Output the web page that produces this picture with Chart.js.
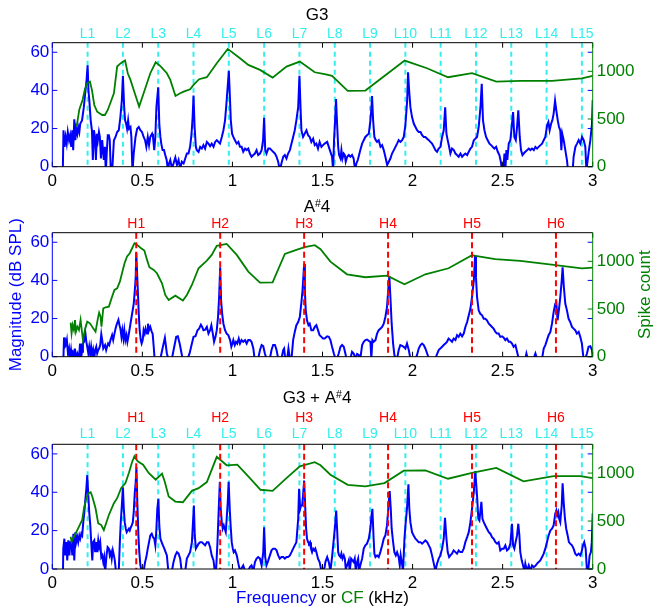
<!DOCTYPE html>
<html>
<head>
<meta charset="utf-8">
<script src="https://cdn.jsdelivr.net/npm/chart.js@4.4.1/dist/chart.umd.min.js"></script>
<style>
  body { margin: 0; background: #fff; }
  #wrap { position: relative; width: 655px; height: 610px; }
  canvas { position: absolute; left: 0; }
</style>
</head>
<body>
<div id="wrap">
  <canvas id="c1" width="655" height="195" style="top:0px"></canvas>
  <canvas id="c2" width="655" height="190" style="top:195px"></canvas>
  <canvas id="c3" width="655" height="225" style="top:385px"></canvas>
</div>
<script>
// axis ticks
const xTicks = [0, 0.5, 1, 1.5, 2, 2.5, 3];
const magTicks = [0, 20, 40, 60];
const spikeTicks = [0, 500, 1000];

// G3 partials (L) and A#4 harmonics (H), kHz
const lineFreqs = [0.196, 0.392, 0.588, 0.784, 0.98, 1.176, 1.372, 1.568, 1.764, 1.96, 2.156, 2.352, 2.548, 2.744, 2.94];
const lineNames = ['L1','L2','L3','L4','L5','L6','L7','L8','L9','L10','L11','L12','L13','L14','L15'];
const harmFreqs = [0.466, 0.932, 1.398, 1.864, 2.33, 2.796];
const harmNames = ['H1','H2','H3','H4','H5','H6'];

// spectra: [kHz, dB SPL]
const g3Spectrum = [[0,-10],[0.057,-10],[0.062,19.1],[0.068,10.4],[0.074,15.6],[0.080,12.1],[0.086,18.2],[0.093,13.9],[0.099,16.5],[0.105,10.4],[0.111,19.1],[0.116,8.7],[0.122,24.8],[0.128,13.9],[0.133,19.9],[0.139,17.3],[0.144,20.8],[0.150,18.2],[0.155,22.5],[0.165,24.3],[0.175,31.2],[0.184,39.9],[0.190,45.1],[0.196,53.2],[0.201,39.9],[0.207,32.9],[0.213,24.3],[0.220,19.1],[0.225,3.5],[0.231,19.1],[0.237,15.6],[0.242,3.5],[0.248,17.3],[0.253,13.9],[0.259,18.2],[0.264,15.6],[0.270,4.3],[0.277,13.9],[0.286,3.5],[0.292,10.4],[0.297,-3],[0.303,8.7],[0.308,16.5],[0.314,16.5],[0.319,13.9],[0.325,-3],[0.332,-3],[0.342,13.9],[0.351,15.6],[0.360,18.2],[0.369,19.1],[0.378,26],[0.386,34.7],[0.392,47.7],[0.399,31.2],[0.404,24.3],[0.410,22.5],[0.415,19.9],[0.421,24.3],[0.426,19.9],[0.434,20.8],[0.439,15.6],[0.445,-3],[0.452,7.0],[0.462,15.6],[0.471,19.9],[0.480,20.8],[0.489,19.1],[0.498,18.2],[0.507,15.6],[0.515,13.9],[0.522,10.4],[0.530,15.6],[0.537,11.3],[0.544,15.6],[0.554,17.3],[0.559,15.6],[0.566,8.7],[0.572,15.6],[0.578,31.2],[0.588,41.6],[0.594,22.5],[0.600,15.6],[0.605,12.1],[0.612,8.7],[0.620,8.7],[0.627,6.1],[0.635,3.5],[0.642,-2],[0.648,1.7],[0.655,3.5],[0.664,-1],[0.673,1.7],[0.683,4.8],[0.692,0.9],[0.701,3.5],[0.710,-1],[0.719,2.6],[0.729,1.7],[0.738,4.3],[0.747,6.9],[0.756,6.9],[0.765,10.4],[0.773,17.3],[0.779,26],[0.784,37.3],[0.790,20.8],[0.797,10.4],[0.802,8.7],[0.812,7.8],[0.821,10.4],[0.830,9.5],[0.839,11.3],[0.848,9.5],[0.858,13],[0.867,12.1],[0.876,10.8],[0.885,12.1],[0.895,10.4],[0.904,13],[0.913,13.9],[0.922,13],[0.931,12.1],[0.941,15.6],[0.950,19.1],[0.959,24.3],[0.968,34.7],[0.980,50.2],[0.986,36.4],[0.991,24.3],[0.998,17.3],[1.005,15.6],[1.014,13.9],[1.024,12.1],[1.033,13],[1.042,10.4],[1.051,10.4],[1.060,7.8],[1.070,9.5],[1.079,8.7],[1.088,9.5],[1.097,6.9],[1.106,5.2],[1.116,6.1],[1.125,6.9],[1.134,8.7],[1.143,6.1],[1.153,6.9],[1.162,8.7],[1.170,13.9],[1.176,25.6],[1.182,8.7],[1.189,6.9],[1.199,9.5],[1.208,9.5],[1.217,8.7],[1.226,7.8],[1.236,6.9],[1.245,5.2],[1.254,2.6],[1.263,-2],[1.272,1.7],[1.282,5.2],[1.291,6.1],[1.300,4.3],[1.309,6.9],[1.319,8.7],[1.328,12.1],[1.337,15.6],[1.346,19.1],[1.355,24.3],[1.365,31.2],[1.372,47.7],[1.378,31.2],[1.383,19.1],[1.392,15.6],[1.401,17.3],[1.411,19.1],[1.420,16.5],[1.429,15.6],[1.438,13],[1.448,14.7],[1.457,11.3],[1.466,12.1],[1.475,9.5],[1.484,13],[1.494,10.4],[1.503,11.3],[1.512,12.1],[1.526,13.0],[1.535,10.4],[1.544,7.8],[1.553,5.2],[1.559,-2],[1.564,13.9],[1.570,24.3],[1.575,35.5],[1.581,22.5],[1.587,10.4],[1.592,6.1],[1.600,4.3],[1.605,8.7],[1.611,4.3],[1.618,6.9],[1.624,6.1],[1.629,2.6],[1.637,5.2],[1.646,6.1],[1.655,5.2],[1.664,6.1],[1.673,4.3],[1.681,-2],[1.688,1.7],[1.696,3.5],[1.703,6.1],[1.710,8.7],[1.720,12.1],[1.729,13.9],[1.738,15.6],[1.747,16.5],[1.757,17.3],[1.766,24.3],[1.772,31.2],[1.775,37],[1.781,24.3],[1.788,15.6],[1.796,13.9],[1.803,13.0],[1.812,13.9],[1.822,10.4],[1.831,11.3],[1.840,8.7],[1.849,5.2],[1.859,0.9],[1.868,2.6],[1.877,4.3],[1.886,6.9],[1.896,8.7],[1.905,10.4],[1.914,12.1],[1.923,13.9],[1.933,13.0],[1.942,13.9],[1.951,15.6],[1.960,21.7],[1.970,34.7],[1.975,49.5],[1.981,39.9],[1.988,31.2],[1.997,26.0],[2.007,22.5],[2.016,20.8],[2.025,19.1],[2.034,18.2],[2.044,18.2],[2.053,16.5],[2.062,15.6],[2.071,15.6],[2.081,14.7],[2.090,13.9],[2.099,13.0],[2.108,12.1],[2.118,10.4],[2.127,8.7],[2.136,7.8],[2.145,9.5],[2.155,10.4],[2.164,15.6],[2.173,19.1],[2.181,31.1],[2.188,17.3],[2.195,13.9],[2.203,10.4],[2.210,6.9],[2.219,9.5],[2.229,8.7],[2.238,6.9],[2.247,6.1],[2.256,5.2],[2.266,6.9],[2.275,5.2],[2.284,6.1],[2.293,6.9],[2.303,6.1],[2.312,7.8],[2.321,9.5],[2.330,10.4],[2.340,13.9],[2.349,14.7],[2.358,15.6],[2.367,20.8],[2.377,31.2],[2.384,43.4],[2.391,24.3],[2.399,19.1],[2.408,15.6],[2.417,13.9],[2.427,12.1],[2.436,11.3],[2.445,10.4],[2.454,9.5],[2.464,10.4],[2.473,7.8],[2.482,6.1],[2.490,2.6],[2.497,-2],[2.504,-2],[2.510,6.9],[2.515,-2],[2.521,8.7],[2.526,3.5],[2.534,12.1],[2.543,13.9],[2.552,22.5],[2.558,28.6],[2.565,15.6],[2.573,13.9],[2.580,20.8],[2.587,29.5],[2.595,15.6],[2.602,8.7],[2.610,6.1],[2.617,6.9],[2.626,7.8],[2.636,8.7],[2.645,9.5],[2.654,8.7],[2.663,9.5],[2.673,8.7],[2.682,10.4],[2.691,9.5],[2.700,10.4],[2.710,11.3],[2.719,12.1],[2.728,13.9],[2.737,15.6],[2.747,21.7],[2.754,23.4],[2.761,19.1],[2.769,22.5],[2.776,24.3],[2.783,27.7],[2.791,34.7],[2.798,29.5],[2.806,24.3],[2.813,20.8],[2.820,19.1],[2.826,8.7],[2.831,17.3],[2.839,13.9],[2.848,8.7],[2.857,3.5],[2.863,-2],[2.889,-2],[2.894,5.2],[2.904,10.4],[2.913,12.1],[2.922,13.9],[2.931,12.1],[2.941,15.6],[2.950,13.9],[2.959,10.4],[2.965,-2],[2.972,3.5],[2.979,8.7],[2.987,13.9],[2.996,22.5],[3.0,35]];

const as4Spectrum = [[0,-10],[0.059,-10],[0.065,10.1],[0.070,5.2],[0.076,6.1],[0.081,8.7],[0.087,1.7],[0.093,4.3],[0.098,-1],[0.104,3.5],[0.109,-1],[0.115,1.7],[0.120,-1],[0.126,4.3],[0.131,-1],[0.139,1.7],[0.148,-1],[0.154,6.9],[0.159,-1],[0.165,2.6],[0.170,6.9],[0.176,7.8],[0.183,13],[0.189,7.8],[0.194,5.2],[0.200,1.7],[0.205,5.2],[0.211,0.9],[0.216,5.2],[0.222,0.9],[0.227,3.5],[0.233,-1],[0.238,3.5],[0.244,5.2],[0.249,1.7],[0.255,3.5],[0.260,4.3],[0.266,6.1],[0.272,11.8],[0.277,8.7],[0.283,4.3],[0.288,5.2],[0.293,6.1],[0.299,3.5],[0.304,5.2],[0.310,6.9],[0.316,6.1],[0.323,8.7],[0.332,11.3],[0.338,8.7],[0.345,12.1],[0.351,14.7],[0.356,16.5],[0.362,18.2],[0.367,19.4],[0.373,16.5],[0.378,14.7],[0.384,10.4],[0.389,13.9],[0.395,9.5],[0.400,13.9],[0.406,8.7],[0.412,11.3],[0.417,7.8],[0.424,11.3],[0.434,17.3],[0.443,22.5],[0.452,27.7],[0.458,34.7],[0.463,41.6],[0.466,54.6],[0.474,36.4],[0.480,22.5],[0.485,13.9],[0.491,8.7],[0.496,6.9],[0.502,8.7],[0.507,13.9],[0.513,12.1],[0.518,14.7],[0.526,12.1],[0.531,17.3],[0.537,13.9],[0.544,15.6],[0.552,13],[0.557,12.1],[0.563,5.2],[0.568,-1],[0.600,-1],[0.614,5.2],[0.625,9.9],[0.636,1.7],[0.644,-1],[0.664,-1],[0.677,5.2],[0.688,10.4],[0.697,10.7],[0.707,6.9],[0.714,3.5],[0.723,-1],[0.751,-1],[0.762,1.7],[0.773,6.1],[0.784,10.4],[0.795,10.7],[0.806,13.9],[0.815,14.7],[0.825,16.8],[0.832,15.6],[0.839,13.9],[0.849,14.2],[0.858,15.6],[0.867,12.1],[0.876,13.9],[0.883,16.5],[0.891,12.1],[0.898,7.8],[0.906,10.4],[0.913,13.9],[0.920,20.8],[0.926,31.2],[0.932,46.9],[0.937,29.5],[0.943,22.5],[0.950,17.3],[0.959,13.9],[0.968,12.1],[0.977,11.3],[0.987,8.7],[0.994,5.2],[1.000,6.9],[1.005,8.7],[1.013,6.1],[1.020,7.8],[1.027,6.9],[1.035,9.5],[1.042,6.9],[1.051,8.7],[1.060,7.8],[1.070,8.7],[1.079,6.9],[1.088,8.7],[1.097,8.7],[1.106,7.8],[1.116,4.3],[1.123,-1],[1.143,-1],[1.153,3.5],[1.162,6.1],[1.171,5.5],[1.180,1.7],[1.189,-1],[1.208,-1],[1.217,3.5],[1.226,6.1],[1.236,6.1],[1.245,3.5],[1.254,-1],[1.272,-1],[1.282,3.5],[1.287,4.3],[1.293,-1],[1.304,-1],[1.311,4.3],[1.319,-1],[1.328,-1],[1.337,8.7],[1.346,13],[1.355,16.5],[1.365,18.2],[1.374,20.8],[1.383,28.6],[1.389,34.7],[1.398,48.6],[1.402,34.7],[1.407,24.3],[1.414,19.1],[1.422,16.5],[1.429,17.3],[1.438,13.9],[1.448,13.9],[1.457,15.6],[1.466,16.5],[1.475,13.9],[1.484,11.3],[1.494,10.4],[1.503,9.5],[1.512,9.5],[1.526,10.7],[1.535,10.4],[1.544,8.7],[1.553,5.2],[1.563,1.7],[1.572,-1],[1.581,-1],[1.590,1.7],[1.600,5.2],[1.609,6.1],[1.618,5.2],[1.627,1.7],[1.633,-1],[1.655,-1],[1.664,2.6],[1.673,1.7],[1.683,-1],[1.692,1.4],[1.701,0.9],[1.710,-1],[1.720,6.1],[1.729,7.8],[1.738,8.7],[1.747,9.0],[1.757,8.3],[1.766,7.8],[1.771,-1],[1.777,8.7],[1.784,7.8],[1.794,8.7],[1.803,12.1],[1.812,13.9],[1.821,14.7],[1.831,15.6],[1.840,17.3],[1.849,20.8],[1.858,26],[1.866,36.4],[1.871,42.3],[1.877,31.2],[1.884,17.3],[1.892,6.9],[1.899,0.9],[1.907,-1],[1.914,-1],[1.923,3.5],[1.932,6.1],[1.942,5.7],[1.951,5.2],[1.960,4.3],[1.969,6.9],[1.979,3.5],[1.988,-1],[2.016,-1],[2.025,0.9],[2.034,4.3],[2.044,6.1],[2.053,6.9],[2.062,6.1],[2.071,4.3],[2.081,1.7],[2.090,-1],[2.127,-1],[2.136,1.4],[2.145,3.5],[2.154,4.3],[2.164,5.2],[2.173,6.1],[2.182,6.9],[2.191,7.8],[2.200,9.5],[2.210,8.7],[2.219,7.8],[2.228,9.5],[2.238,8.7],[2.247,11.3],[2.256,10.4],[2.265,12.1],[2.275,10.7],[2.284,12.1],[2.293,15.6],[2.303,18.2],[2.312,21.7],[2.321,25.1],[2.330,31.2],[2.340,39.9],[2.347,53],[2.352,41.6],[2.358,31.2],[2.367,24.3],[2.376,22.5],[2.386,21.7],[2.395,19.9],[2.404,19.9],[2.413,19.1],[2.423,17.3],[2.432,16.5],[2.441,15.6],[2.450,14.7],[2.460,13],[2.469,12.1],[2.478,12.1],[2.487,10.4],[2.497,10.7],[2.506,10.0],[2.515,8.7],[2.524,9.5],[2.534,7.8],[2.543,7.8],[2.552,6.9],[2.561,5.2],[2.571,6.1],[2.580,2.6],[2.589,-1],[2.626,-1],[2.632,1.7],[2.639,-1],[2.672,-1],[2.682,1.7],[2.691,-1],[2.719,-1],[2.728,4.3],[2.737,6.1],[2.746,8.7],[2.755,11.3],[2.765,13],[2.774,17.3],[2.783,23.4],[2.792,27.7],[2.798,28.6],[2.805,19.1],[2.813,25.1],[2.820,31.2],[2.828,39.9],[2.833,46.9],[2.840,36.4],[2.848,27.7],[2.857,24.3],[2.866,19.9],[2.875,18.2],[2.885,15.6],[2.894,14.7],[2.903,13.9],[2.912,12.1],[2.922,13],[2.931,10.4],[2.940,6.9],[2.949,-1],[2.959,-1],[2.968,1.7],[2.977,5.2],[2.987,5.5],[2.996,3.5],[3.0,-1]];

const mixSpectrum = [[0,-10],[0.058,-10],[0.061,10.6],[0.067,15.8],[0.072,7.1],[0.078,14],[0.083,4.5],[0.089,14.9],[0.095,7.1],[0.100,14],[0.106,14],[0.111,7.1],[0.117,18.4],[0.122,4.5],[0.128,19.2],[0.133,14],[0.139,16.6],[0.144,14],[0.150,17.5],[0.155,15.8],[0.161,18.4],[0.166,17.5],[0.172,24.4],[0.178,29.6],[0.183,35.7],[0.189,41.8],[0.194,48.9],[0.200,38.3],[0.205,29.6],[0.211,22.7],[0.216,14],[0.222,4.5],[0.227,14],[0.233,14.9],[0.238,8.8],[0.244,14],[0.249,8.8],[0.255,14.9],[0.260,11.4],[0.266,14],[0.272,6.2],[0.277,7.1],[0.283,3.6],[0.288,6.2],[0.294,-1],[0.301,7.1],[0.307,11.4],[0.314,10.6],[0.319,7.1],[0.325,8.8],[0.330,5.4],[0.336,9.7],[0.342,7.1],[0.347,4.5],[0.353,-1],[0.369,-1],[0.375,14],[0.380,24.4],[0.386,33.1],[0.392,42.6],[0.397,31.4],[0.402,24.4],[0.408,21],[0.413,19.2],[0.419,20.1],[0.425,21],[0.430,20.1],[0.436,21.8],[0.441,22.7],[0.447,24.4],[0.452,29.6],[0.458,40],[0.463,45.2],[0.467,53],[0.472,34.8],[0.478,17.5],[0.483,8.8],[0.489,1.9],[0.496,-1],[0.507,-1],[0.515,3.6],[0.522,6.2],[0.530,10.6],[0.537,14],[0.544,17.5],[0.552,18.4],[0.559,16.6],[0.566,15.8],[0.572,12.3],[0.577,19.2],[0.583,31.4],[0.589,36.6],[0.594,22.7],[0.600,15.8],[0.607,14],[0.614,12.3],[0.622,10.6],[0.629,8.8],[0.636,7.1],[0.644,-1],[0.664,-1],[0.673,3.6],[0.683,7.1],[0.692,8.8],[0.701,8],[0.710,5.4],[0.718,-1],[0.738,-1],[0.747,5.4],[0.756,7.1],[0.765,8.8],[0.775,14],[0.780,22.7],[0.786,33.1],[0.791,17.5],[0.797,10.6],[0.802,11.4],[0.812,13.2],[0.821,14],[0.830,14],[0.839,13.2],[0.848,12.3],[0.858,14],[0.867,14],[0.876,11.4],[0.885,7.1],[0.895,4.5],[0.902,-1],[0.909,-1],[0.917,14],[0.924,31.4],[0.930,45.5],[0.935,31.4],[0.941,24.4],[0.946,21],[0.952,22.7],[0.957,21],[0.963,19.2],[0.968,26.2],[0.974,34.8],[0.979,45.5],[0.985,31.4],[0.990,22.7],[0.996,14],[1.002,10.6],[1.007,8.8],[1.014,9.7],[1.024,7.1],[1.033,2.8],[1.042,-1],[1.060,1.9],[1.070,-1],[1.088,-1],[1.097,1.0],[1.106,1.9],[1.116,-1],[1.125,3.6],[1.134,5.4],[1.143,6.2],[1.153,5.4],[1.162,1.9],[1.171,8.8],[1.176,21.8],[1.182,6.2],[1.189,1.9],[1.199,4.5],[1.208,7.1],[1.217,9.7],[1.226,10.6],[1.236,10.6],[1.245,9.7],[1.254,7.1],[1.263,5.4],[1.272,6.2],[1.282,6.2],[1.291,5.4],[1.300,6.2],[1.309,6.2],[1.319,7.1],[1.328,8.8],[1.337,10.6],[1.346,12.3],[1.355,14],[1.365,26.2],[1.370,41.8],[1.376,31.4],[1.381,33.1],[1.387,33.1],[1.392,38.3],[1.398,46.1],[1.403,34.8],[1.409,21],[1.414,15.8],[1.420,14],[1.425,13.2],[1.431,14],[1.436,10.6],[1.442,8.8],[1.448,10.6],[1.455,9.7],[1.460,10.6],[1.466,8.8],[1.475,5.4],[1.484,3.6],[1.494,-1],[1.503,-1],[1.512,1.0],[1.516,3.6],[1.526,6.2],[1.535,3.6],[1.544,-1],[1.553,6.2],[1.563,15.8],[1.570,22.7],[1.576,30.5],[1.581,21],[1.587,8.8],[1.592,7.1],[1.600,6.2],[1.605,8],[1.611,5.4],[1.618,7.1],[1.624,5.4],[1.629,0.2],[1.637,1.9],[1.646,4.5],[1.651,-1],[1.659,5.4],[1.666,4.5],[1.673,3.6],[1.679,5.4],[1.685,-1],[1.692,3.6],[1.698,5.4],[1.703,-1],[1.710,1.9],[1.720,5.4],[1.729,10.6],[1.738,12.3],[1.747,13.2],[1.757,15.8],[1.766,21],[1.772,27.9],[1.777,31.4],[1.783,17.5],[1.788,8],[1.794,6.2],[1.803,7.1],[1.812,6.2],[1.821,8.8],[1.831,12.3],[1.840,15.8],[1.849,17.5],[1.858,22.7],[1.868,34.8],[1.873,40.6],[1.879,31.4],[1.884,21],[1.892,14],[1.899,8.8],[1.907,7.1],[1.914,8.8],[1.923,6.2],[1.929,1.9],[1.934,7.1],[1.940,3.6],[1.947,-1],[1.955,15.8],[1.962,24.4],[1.969,31.4],[1.977,44.2],[1.982,31.4],[1.988,24.4],[1.997,19.2],[2.006,17.5],[2.016,15.8],[2.025,14.9],[2.034,14],[2.044,14],[2.053,13.2],[2.062,14],[2.071,14.9],[2.081,14],[2.090,12.3],[2.099,10.6],[2.108,7.1],[2.118,2.8],[2.127,-1],[2.136,2.8],[2.145,5.4],[2.154,7.1],[2.164,10.6],[2.173,15.8],[2.180,26.7],[2.188,15.8],[2.195,8.8],[2.203,6.2],[2.210,7.1],[2.219,8],[2.228,9.7],[2.238,8.8],[2.247,8],[2.256,9.7],[2.265,8.8],[2.275,8.8],[2.284,10.6],[2.293,14],[2.303,16.6],[2.312,19.2],[2.321,24.4],[2.330,31.4],[2.340,40],[2.348,51],[2.354,43.5],[2.359,36.6],[2.365,26.2],[2.371,25.3],[2.376,29.6],[2.382,35],[2.388,26.2],[2.395,24.4],[2.404,22.7],[2.413,21],[2.423,19.2],[2.432,18.4],[2.441,16.6],[2.450,15.8],[2.460,14],[2.469,13.2],[2.478,14],[2.487,9.7],[2.497,10.6],[2.506,10.6],[2.515,12.3],[2.524,9.7],[2.534,10.6],[2.543,13.2],[2.552,23.6],[2.558,12.3],[2.565,10.6],[2.572,14],[2.580,17.5],[2.587,23.6],[2.593,17.5],[2.598,8.8],[2.606,4.5],[2.613,1.9],[2.621,-1],[2.626,2.8],[2.635,-1],[2.645,1.9],[2.654,-1],[2.663,1.9],[2.672,1.0],[2.682,1.7],[2.691,2.8],[2.700,3.6],[2.709,4.5],[2.719,6.2],[2.728,8],[2.737,10.6],[2.746,14],[2.755,17.5],[2.765,20.1],[2.774,21],[2.783,22.7],[2.792,28.8],[2.798,30.5],[2.803,27.9],[2.809,29.6],[2.814,26.2],[2.820,24.4],[2.828,33.1],[2.833,44.7],[2.839,34.8],[2.846,26.2],[2.853,21],[2.861,17.5],[2.868,14],[2.875,13.2],[2.885,12.3],[2.894,10.6],[2.903,8],[2.912,7.1],[2.922,8],[2.931,7.1],[2.938,8.8],[2.946,12.3],[2.953,14],[2.961,10.6],[2.968,-1],[2.975,-1],[2.983,7.1],[2.990,8.8],[2.995,14],[3.0,29]];

// spike counts vs CF: [kHz, count]
const g3Spikes = [[0.135,420],[0.150,600],[0.168,700],[0.181,812],[0.194,875],[0.209,892],[0.220,805],[0.233,647],[0.249,577],[0.277,542],[0.292,542],[0.308,595],[0.342,770],[0.360,1050],[0.380,1085],[0.404,1113],[0.419,980],[0.434,910],[0.452,805],[0.482,630],[0.507,770],[0.544,980],[0.574,1095],[0.603,1050],[0.636,980],[0.655,910],[0.684,742],[0.710,770],[0.729,787],[0.765,812],[0.784,857],[0.815,917],[0.858,938],[0.913,1085],[0.974,1235],[1.042,1137],[1.088,1067],[1.153,1015],[1.223,934],[1.300,1050],[1.374,1102],[1.457,990],[1.512,970],[1.553,952],[1.640,795],[1.738,798],[1.956,1113],[2.080,1032],[2.197,938],[2.330,980],[2.465,892],[2.598,900],[2.774,900],[2.940,927],[3.0,952]];
const as4Spikes = [[0.102,357],[0.107,245],[0.113,332],[0.120,280],[0.126,385],[0.131,262],[0.139,315],[0.148,280],[0.157,385],[0.170,175],[0.181,280],[0.194,367],[0.209,350],[0.227,297],[0.240,262],[0.253,402],[0.260,462],[0.268,420],[0.273,315],[0.283,507],[0.296,518],[0.314,525],[0.332,630],[0.345,700],[0.360,717],[0.375,787],[0.388,882],[0.401,980],[0.415,1050],[0.430,1085],[0.443,1137],[0.456,1190],[0.471,1172],[0.493,1137],[0.511,1113],[0.526,1015],[0.539,938],[0.563,910],[0.581,875],[0.609,770],[0.627,647],[0.646,595],[0.683,640],[0.725,588],[0.747,647],[0.775,752],[0.812,927],[0.858,1008],[0.885,1067],[0.913,1162],[0.968,1183],[1.024,1067],[1.088,892],[1.153,777],[1.223,780],[1.291,1078],[1.355,1120],[1.401,1148],[1.457,1169],[1.489,1127],[1.544,997],[1.636,864],[1.738,833],[1.859,850],[1.955,760],[2.071,864],[2.200,927],[2.330,1064],[2.349,1057],[2.459,1022],[2.598,1004],[2.783,962],[2.940,927],[3.0,934]];
const mixSpikes = [[0.102,336],[0.107,283],[0.115,318],[0.130,371],[0.148,441],[0.166,511],[0.176,633],[0.189,738],[0.201,791],[0.213,801],[0.222,756],[0.240,633],[0.255,476],[0.272,458],[0.286,406],[0.314,563],[0.342,686],[0.360,738],[0.382,843],[0.406,896],[0.425,1001],[0.443,1116],[0.456,1176],[0.474,1123],[0.504,1088],[0.535,1001],[0.574,931],[0.609,994],[0.624,913],[0.646,756],[0.683,703],[0.725,696],[0.775,815],[0.812,843],[0.858,906],[0.913,1169],[0.968,1081],[1.027,1088],[1.097,948],[1.156,826],[1.223,815],[1.300,948],[1.374,1071],[1.457,1113],[1.489,1081],[1.544,983],[1.640,878],[1.738,861],[1.844,896],[1.951,1025],[2.071,1029],[2.197,941],[2.330,1001],[2.465,1053],[2.616,913],[2.783,969],[2.931,969],[3.0,948]];

const FS = 17;
Chart.defaults.font.family = "'Liberation Sans', Arial, sans-serif";
Chart.defaults.font.size = FS;
Chart.defaults.color = '#000';

const BLUE = '#0000ff', GREEN = '#008000', CYAN = '#33eeee', RED = '#ff0000';
const FONT = "'Liberation Sans', Arial, sans-serif";

// axes box, inward ticks, marker labels, titles
const decor = {
  id: 'decor',
  afterDraw(chart, args, o) {
    const ctx = chart.ctx, a = chart.chartArea;
    const xs = chart.scales.x, yl = chart.scales.y, yr = chart.scales.y1;
    ctx.save();
    ctx.lineWidth = 1;
    const seg = (color, fn) => { ctx.strokeStyle = color; ctx.beginPath(); fn(); ctx.stroke(); };
    seg('#000', () => xTicks.forEach(v => {
      const px = xs.getPixelForValue(v);
      ctx.moveTo(px, a.bottom); ctx.lineTo(px, a.bottom - 5);
      ctx.moveTo(px, a.top); ctx.lineTo(px, a.top + 5);
    }));
    seg(BLUE, () => magTicks.forEach(v => {
      const py = yl.getPixelForValue(v);
      ctx.moveTo(a.left, py); ctx.lineTo(a.left + 5, py);
      ctx.moveTo(a.right, py); ctx.lineTo(a.right - 5, py);
    }));
    seg(GREEN, () => spikeTicks.forEach(v => {
      const py = yr.getPixelForValue(v);
      ctx.moveTo(a.right, py); ctx.lineTo(a.right - 5, py);
    }));
    seg('#000', () => {
      ctx.moveTo(a.left, a.top); ctx.lineTo(a.right, a.top);
      ctx.moveTo(a.left, a.bottom); ctx.lineTo(a.right, a.bottom);
    });
    seg(BLUE, () => { ctx.moveTo(a.left, a.top); ctx.lineTo(a.left, a.bottom); });
    seg(GREEN, () => { ctx.moveTo(a.right, a.top); ctx.lineTo(a.right, a.bottom); });

    ctx.textAlign = 'center';
    ctx.textBaseline = 'alphabetic';
    ctx.font = '14px ' + FONT;
    o.rows.forEach(r => {
      ctx.fillStyle = r.color;
      r.freqs.forEach((f, i) => ctx.fillText(r.names[i], xs.getPixelForValue(f), a.top - r.gap));
    });

    // title with superscript pieces
    ctx.textAlign = 'left';
    ctx.fillStyle = '#000';
    let w = 0;
    o.title.forEach(p => { ctx.font = (p.sup ? 10.5 : FS) + 'px ' + FONT; w += ctx.measureText(p.t).width; });
    let tx = 317 - w / 2;
    const tb = a.top - o.titleGap;
    o.title.forEach(p => {
      ctx.font = (p.sup ? 10.5 : FS) + 'px ' + FONT;
      ctx.fillText(p.t, tx, p.sup ? tb - 5 : tb);
      tx += ctx.measureText(p.t).width;
    });

    ctx.font = FS + 'px ' + FONT;
    if (o.yTitles) {
      const cy = (a.top + a.bottom) / 2;
      ctx.textAlign = 'center';
      ctx.textBaseline = 'middle';
      ctx.save(); ctx.translate(16, cy); ctx.rotate(-Math.PI / 2);
      ctx.fillStyle = BLUE; ctx.fillText('Magnitude (dB SPL)', 0, 0); ctx.restore();
      ctx.save(); ctx.translate(645, cy); ctx.rotate(-Math.PI / 2);
      ctx.fillStyle = GREEN; ctx.fillText('Spike count', 0, 0); ctx.restore();
    }
    if (o.xTitle) {
      const parts = [['Frequency', BLUE], [' or ', '#000'], ['CF', GREEN], [' (kHz)', '#000']];
      ctx.textAlign = 'left';
      ctx.textBaseline = 'alphabetic';
      let total = 0;
      parts.forEach(p => total += ctx.measureText(p[0]).width);
      let px = (a.left + a.right) / 2 - total / 2;
      parts.forEach(p => { ctx.fillStyle = p[1]; ctx.fillText(p[0], px, a.bottom + 34.3); px += ctx.measureText(p[0]).width; });
    }
    ctx.restore();
  }
};

function vlines(freqs) {
  const d = [];
  freqs.forEach(f => d.push({x: f, y: 65}, {x: f, y: 0}, {x: f, y: null}));
  return d;
}
const pts = arr => arr.map(p => ({x: p[0], y: p[1]}));

function panel(id, spectrum, spikes, opt) {
  const canvas = document.getElementById(id);
  const datasets = [];
  if (opt.cyan) datasets.push({data: vlines(lineFreqs), borderColor: CYAN, borderWidth: 2, borderDash: [5, 4], yAxisID: 'y', order: 4});
  datasets.push({data: pts(spectrum), borderColor: BLUE, borderWidth: 2, yAxisID: 'y', order: 3});
  datasets.push({data: pts(spikes), borderColor: GREEN, borderWidth: 1.8, yAxisID: 'y1', order: 2});
  if (opt.red) datasets.push({data: vlines(harmFreqs), borderColor: RED, borderWidth: 2, borderDash: [6, 3.5], yAxisID: 'y', order: 1});

  new Chart(canvas, {
    type: 'line',
    data: {datasets},
    options: {
      responsive: false,
      animation: false,
      events: [],
      layout: {padding: {top: opt.top, left: 0, right: 0, bottom: 0}},
      elements: {point: {radius: 0}, line: {tension: 0}},
      plugins: {legend: {display: false}, tooltip: {enabled: false}, decor: opt.decor},
      scales: {
        x: {
          type: 'linear', min: 0, max: 3,
          grid: {display: false, drawTicks: false}, border: {display: false},
          afterBuildTicks: s => { s.ticks = xTicks.map(v => ({value: v})); },
          afterFit: s => { s.height = opt.xh; },
          ticks: {autoSkip: false, maxRotation: 0, padding: 4.2, color: '#000', callback: v => String(v)}
        },
        y: {
          position: 'left', min: 0, max: 65,
          grid: {display: false, drawTicks: false}, border: {display: false},
          afterBuildTicks: s => { s.ticks = magTicks.map(v => ({value: v})); },
          afterFit: s => { s.width = 52.3; },
          ticks: {padding: 3, color: BLUE, callback: v => String(v)}
        },
        y1: {
          position: 'right', min: 0, max: 1300,
          grid: {display: false, drawTicks: false}, border: {display: false},
          afterBuildTicks: s => { s.ticks = spikeTicks.map(v => ({value: v})); },
          afterFit: s => { s.width = 62.3; },
          ticks: {padding: 4, color: GREEN, callback: v => String(v)}
        }
      }
    },
    plugins: [decor]
  });
}

panel('c1', g3Spectrum, g3Spikes, {
  top: 42.7, xh: 28.3, cyan: true, red: false,
  decor: {title: [{t: 'G3'}], titleGap: 22.7,
    rows: [{freqs: lineFreqs, names: lineNames, color: CYAN, gap: 4.4}]}
});
panel('c2', as4Spectrum, as4Spikes, {
  top: 37.7, xh: 28.3, cyan: false, red: true,
  decor: {title: [{t: 'A'}, {t: '#', sup: true}, {t: '4'}], titleGap: 21, yTitles: true,
    rows: [{freqs: harmFreqs, names: harmNames, color: RED, gap: 4.4}]}
});
panel('c3', mixSpectrum, mixSpikes, {
  top: 59.3, xh: 41, cyan: true, red: true,
  decor: {title: [{t: 'G3 + A'}, {t: '#', sup: true}, {t: '4'}], titleGap: 41, xTitle: true,
    rows: [{freqs: harmFreqs, names: harmNames, color: RED, gap: 22.6},
           {freqs: lineFreqs, names: lineNames, color: CYAN, gap: 6}]}
});
</script>
</body>
</html>
